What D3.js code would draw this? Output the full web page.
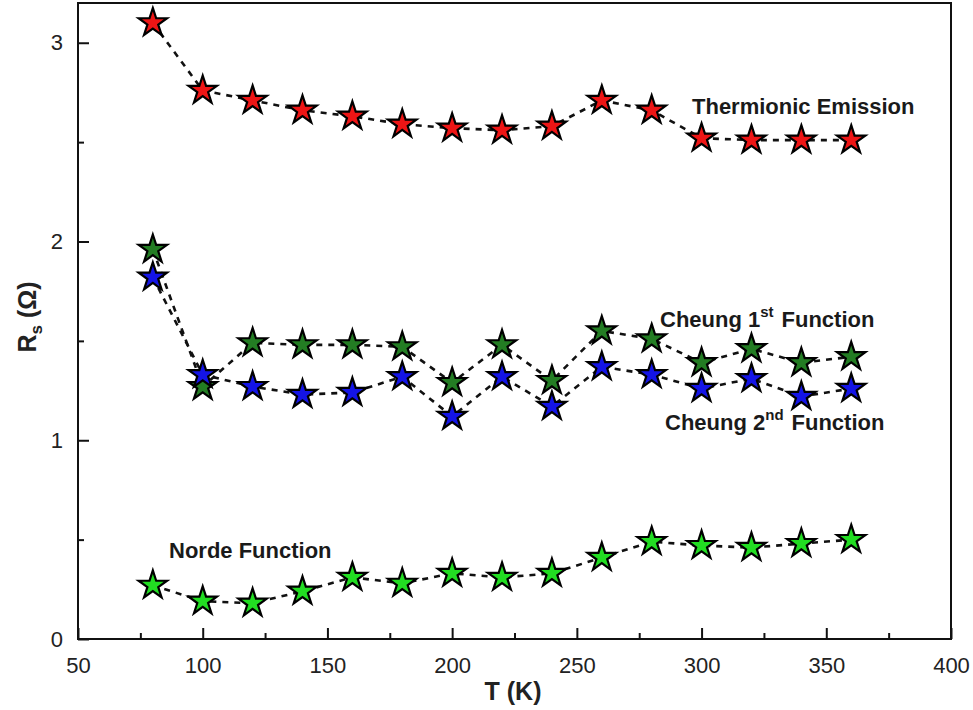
<!DOCTYPE html>
<html>
<head>
<meta charset="utf-8">
<script src="https://cdn.jsdelivr.net/npm/d3@7"></script>
<style>
  body { margin: 0; background: #fff; }
  svg { display: block; font-family: "Liberation Sans", Arial, sans-serif; }
</style>
</head>
<body>
<div class="chart"></div>
<script>
// temperatures (K)
const temps = [80, 100, 120, 140, 160, 180, 200, 220, 240, 260, 280, 300, 320, 340, 360];

// series resistance values (ohm)
const thermionic = [3.10, 2.76, 2.71, 2.66, 2.63, 2.59, 2.57, 2.56, 2.58, 2.71, 2.66, 2.52, 2.51, 2.51, 2.51];
const cheung1 = [1.96, 1.27, 1.49, 1.48, 1.48, 1.47, 1.29, 1.48, 1.30, 1.55, 1.51, 1.39, 1.46, 1.39, 1.42];
const cheung2 = [1.82, 1.33, 1.27, 1.23, 1.24, 1.32, 1.12, 1.32, 1.17, 1.37, 1.33, 1.26, 1.31, 1.22, 1.26];
const norde = [0.27, 0.19, 0.18, 0.24, 0.31, 0.28, 0.33, 0.31, 0.33, 0.41, 0.49, 0.47, 0.46, 0.48, 0.50];

const xTicks = [50, 100, 150, 200, 250, 300, 350, 400];
const yTicks = [0, 1, 2, 3];

const series = [
  { name: "thermionic", values: thermionic, color: "#ee1515" },
  { name: "cheung1", values: cheung1, color: "#237d23" },
  { name: "cheung2", values: cheung2, color: "#1414e6" },
  { name: "norde", values: norde, color: "#22dd22" }
];

const W = 973, H = 710;
const margin = { top: 3, right: 22, bottom: 71, left: 78 };
const width = W - margin.left - margin.right;
const height = H - margin.top - margin.bottom;

const svg = d3.select(".chart")
  .append("svg")
  .attr("width", W)
  .attr("height", H);

const g = svg.append("g")
  .attr("transform", `translate(${margin.left},${margin.top})`);

const x = d3.scaleLinear().domain([50, 400]).range([0, width]);
const y = d3.scaleLinear().domain([0, 3.2]).range([height, 0]);

// dashed connecting lines
const line = d3.line()
  .x((d, i) => x(temps[i]))
  .y(d => y(d));

series.forEach(s => {
  g.append("path")
    .datum(s.values)
    .attr("d", line)
    .attr("fill", "none")
    .attr("stroke", "#111")
    .attr("stroke-width", 2.6)
    .attr("stroke-dasharray", "6,6");
});

// star markers
const star = d3.symbol().type(d3.symbolStar).size(250);
series.forEach(s => {
  g.selectAll(".m-" + s.name)
    .data(s.values)
    .enter().append("path")
    .attr("d", star)
    .attr("transform", (d, i) => `translate(${x(temps[i])},${y(d)})`)
    .attr("fill", s.color)
    .attr("stroke", "#000")
    .attr("stroke-width", 2.2)
    .attr("stroke-linejoin", "miter");
});

// axes: ticks inside, labels outside
const xAxis = g.append("g")
  .attr("transform", `translate(0,${height})`)
  .call(d3.axisBottom(x).tickValues(xTicks).tickSizeInner(-11).tickSizeOuter(0).tickPadding(18));
const xMinor = g.append("g")
  .attr("transform", `translate(0,${height})`)
  .call(d3.axisBottom(x).tickValues(d3.range(75, 400, 50)).tickSizeInner(-6).tickSizeOuter(0).tickFormat(""));

const yAxis = g.append("g")
  .call(d3.axisLeft(y).tickValues(yTicks).tickFormat(d3.format("d")).tickSizeInner(-11).tickSizeOuter(0).tickPadding(15));
const yMinor = g.append("g")
  .call(d3.axisLeft(y).tickValues([0.5, 1.5, 2.5]).tickSizeInner(-6).tickSizeOuter(0).tickFormat(""));

[xAxis, xMinor, yAxis, yMinor].forEach(a => {
  a.select(".domain").remove();
  a.selectAll("line").attr("stroke", "#111").attr("stroke-width", 2);
  a.selectAll("text").style("font-size", "22px").attr("fill", "#222")
    .style("font-family", "'Liberation Sans', Arial, sans-serif");
});

// frame
g.append("rect")
  .attr("x", 0).attr("y", 0)
  .attr("width", width).attr("height", height)
  .attr("fill", "none")
  .attr("stroke", "#111")
  .attr("stroke-width", 2);

// axis titles
svg.append("text")
  .attr("x", 513)
  .attr("y", 700)
  .attr("text-anchor", "middle")
  .style("font-size", "25px")
  .style("font-weight", "bold")
  .attr("fill", "#222")
  .text("T (K)");

const yTitle = svg.append("text")
  .attr("transform", `translate(36,${margin.top + height / 2 - 4}) rotate(-90)`)
  .attr("text-anchor", "middle")
  .style("font-size", "25px")
  .style("font-weight", "bold")
  .attr("fill", "#222");
yTitle.append("tspan").text("R");
yTitle.append("tspan").attr("dy", 6).style("font-size", "17px").text("s");
yTitle.append("tspan").attr("dy", -6).text(" (Ω)");

// series labels
function label(px, py, parts) {
  const t = svg.append("text")
    .attr("x", px).attr("y", py)
    .style("font-size", "22px")
    .style("font-weight", "bold")
    .attr("fill", "#1a1a1a");
  parts.forEach(p => {
    if (p.sup) {
      t.append("tspan").attr("dy", -10).style("font-size", "15px").text(p.text);
      t.append("tspan").attr("dy", 10).text("\u200a");
    } else {
      t.append("tspan").text(p.text);
    }
  });
}
label(692, 114, [{ text: "Thermionic Emission" }]);
label(660, 327, [{ text: "Cheung 1" }, { text: "st", sup: true }, { text: " Function" }]);
label(665, 430, [{ text: "Cheung 2" }, { text: "nd", sup: true }, { text: " Function" }]);
label(169, 558, [{ text: "Norde Function" }]);
</script>
</body>
</html>
